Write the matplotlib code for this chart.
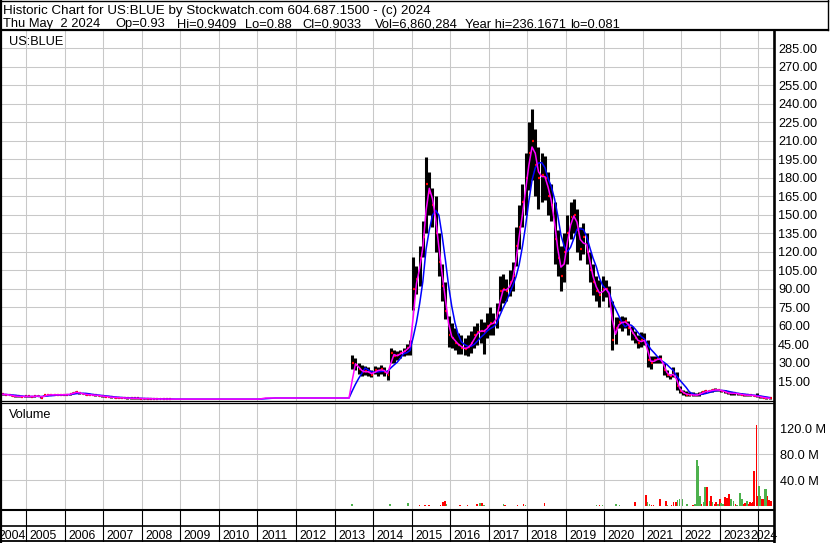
import numpy as np
import pandas as pd
import matplotlib
matplotlib.use("Agg")
import matplotlib.pyplot as plt
from matplotlib.transforms import offset_copy, blended_transform_factory
from matplotlib.ticker import FuncFormatter

plt.rcParams['font.family'] = ['Liberation Sans', 'DejaVu Sans']

# monthly bars, May 2004 .. Apr 2024 (None = no trading that month)
months = pd.date_range("2004-05-01", "2024-04-01", freq="MS")

close = [
    4.2, 4.0, 3.6, 3.0, 2.6, 2.5, 2.4, 2.5,                               # 2004
    2.5, 2.4, 2.6, 3.0, 1.5, 3.4, 3.7, 3.8, 3.7, 3.8, 3.8, 3.9,           # 2005
    4.0, 4.3, 5.5, 6.0, 5.0, 4.5, 4.0, 3.8, 3.6, 3.4, 3.1, 2.7,           # 2006
    2.4, 2.0, 1.8, 1.6, 1.5, 1.4, 1.2, 1.1, 1.0, 1.0, 0.9, 0.8,           # 2007
    0.7, 0.8, 0.6, 0.5, 0.5, 0.4, 0.4, 0.3, 0.3, 0.3, 0.3, 0.3,           # 2008
    0.3, 0.3, 0.3, 0.3, 0.3, 0.3, 0.3, 0.3, 0.3, 0.3, 0.3, 0.3,           # 2009
    0.3, 0.3, 0.3, 0.3, 0.3, 0.3, 0.3, 0.3, 0.3, 0.3, 0.3, 0.3,           # 2010
    0.3, 1.2, 1.2, 1.2, 1.2, 1.2, 1.2, 1.2, 1.2, 1.2, 1.2, 1.2,           # 2011
    1.2, 1.2, 1.2, 1.2, 1.2, 1.2, 1.2, 1.2, 1.2, 1.2, 1.2, 1.2,           # 2012
    1.2, 1.2, 1.2, 1.2, 1.2, 30, 28, 25, 22, 23, 22, 20,                  # 2013
    24, 23, 25, 22, 20, 38, 35, 36, 38, 39, 42, 44,                       # 2014
    90, 98, 115, 132, 175, 168, 158, 135, 112, 92, 72, 52,                # 2015
    50, 46, 44, 42, 41, 43, 46, 52, 55, 56, 55, 60,                       # 2016
    62, 62, 70, 88, 90, 88, 95, 100, 125, 140, 160, 180,                  # 2017
    200, 210, 190, 180, 182, 180, 165, 158, 130, 115, 100, 120,           # 2018
    135, 148, 150, 138, 122, 132, 120, 105, 95, 88, 85, 90,               # 2019
    90, 82, 48, 58, 63, 62, 64, 58, 54, 50, 46, 48,                       # 2020
    48, 32, 30, 32, 33, 33, 24, 20, 19, 22, 11, 7,                        # 2021
    5, 4, 4, 3.5, 3.5, 4.5, 6, 6.5, 7, 7.5, 8, 7.5,                       # 2022
    7, 6, 5, 5, 5, 4.5, 4, 3.5, 3.5, 3.5, 3, 2.5,                         # 2023
    2, 1.5, 1.1, 0.9,                                                     # 2024
]
high = [
    4.6, 4.3, 3.9, 3.3, 2.9, 2.8, 2.7, 2.8,
    2.8, 2.7, 2.9, 3.3, 3.0, 3.7, 4.0, 4.1, 4.0, 4.1, 4.1, 4.2,
    4.3, 4.8, 6.3, 6.8, 5.6, 4.9, 4.4, 4.1, 3.9, 3.7, 3.4, 3.0,
    2.7, 2.3, 2.1, 1.9, 1.8, 1.7, 1.5, 1.4, 1.3, 1.3, 1.2, 1.1,
    1.0, 1.3, 0.9, 0.8, 0.8, 0.7, 0.6, 0.5, 0.5, None, None, None,
    None, None, None, None, None, None, None, None, None, None, None, None,
    None, None, None, None, None, None, None, None, None, None, None, None,
    None, None, None, None, None, None, None, None, None, None, None, None,
    None, None, None, None, None, None, None, None, None, None, None, None,
    None, None, None, None, None, 36, 34, 30, 28, 27, 26, 24,
    27, 26, 28, 26, 24, 42, 40, 39, 40, 42, 45, 48,
    116, 108, 125, 145, 197, 185, 172, 165, 135, 110, 95, 68,
    62, 58, 54, 52, 50, 52, 56, 60, 62, 65, 63, 70,
    75, 70, 78, 100, 102, 98, 105, 112, 140, 158, 175, 200,
    225, 236, 220, 205, 200, 198, 185, 175, 160, 138, 125, 135,
    150, 160, 163, 155, 140, 143, 135, 120, 110, 100, 97, 100,
    97, 92, 80, 67, 67, 68, 67, 64, 60, 56, 52, 55,
    54, 48, 35, 35, 35, 36, 30, 24, 21, 26, 22, 11,
    8, 7, 6, 6, 5, 6, 7, 8, 8, 8.5, 9, 8.5,
    8, 7.5, 6.5, 6, 6, 5.5, 5, 4.5, 4.5, 4, 4, 5,
    3, 2, 1.5, 1.2,
]
low = [
    3.9, 3.6, 3.3, 2.7, 2.3, 2.2, 2.1, 2.2,
    2.2, 2.1, 2.3, 2.7, 1.2, 3.1, 3.4, 3.5, 3.4, 3.5, 3.5, 3.6,
    3.7, 4.0, 5.0, 5.4, 4.6, 4.2, 3.7, 3.5, 3.3, 3.1, 2.8, 2.4,
    2.1, 1.7, 1.5, 1.3, 1.2, 1.1, 0.9, 0.8, 0.7, 0.7, 0.6, 0.5,
    0.5, 0.5, 0.4, 0.3, 0.3, 0.2, 0.2, 0.1, 0.1, None, None, None,
    None, None, None, None, None, None, None, None, None, None, None, None,
    None, None, None, None, None, None, None, None, None, None, None, None,
    None, None, None, None, None, None, None, None, None, None, None, None,
    None, None, None, None, None, None, None, None, None, None, None, None,
    None, None, None, None, None, 25, 24, 21, 19, 20, 19, 18,
    21, 19, 21, 19, 16, 30, 30, 32, 34, 35, 36, 36,
    73, 86, 92, 116, 135, 150, 140, 120, 100, 80, 65, 43,
    42, 40, 37, 37, 36, 35, 38, 42, 44, 46, 37, 50,
    52, 52, 58, 72, 78, 80, 84, 88, 108, 122, 140, 150,
    170, 178, 165, 155, 160, 162, 150, 145, 110, 100, 88, 95,
    110, 130, 135, 120, 113, 118, 110, 95, 85, 80, 75, 80,
    83, 75, 40, 45, 58, 56, 58, 52, 48, 46, 42, 43,
    44, 26, 25, 30, 30, 30, 20, 18, 17, 18, 8, 5,
    4, 3, 3, 2.5, 2.5, 3, 4.5, 5, 6, 6, 6.5, 6.5,
    6, 5, 4.5, 4, 4, 4, 3.5, 3, 3, 3, 2.5, 2,
    1.5, 1, 0.8, 0.081,
]

# weekly volume (millions), year fraction, up week?
vol_t = [2007.10, 2013.45, 2013.50, 2014.44, 2014.47, 2014.52, 2014.91, 2014.95, 2015.00,
         2015.20, 2015.35, 2015.45, 2015.60, 2015.75, 2015.82, 2015.86, 2015.90, 2016.15,
         2016.25, 2016.45, 2016.70, 2016.78, 2016.82, 2016.88, 2017.10, 2017.38, 2017.42,
         2017.60, 2017.75, 2017.90, 2017.95, 2018.10, 2018.25, 2018.45, 2018.75, 2018.93,
         2019.10, 2019.25, 2019.80, 2019.88, 2019.95, 2020.05, 2020.15, 2020.30, 2020.40,
         2020.55, 2020.80, 2020.88, 2021.08, 2021.12, 2021.17, 2021.22, 2021.28, 2021.44,
         2021.60, 2021.64, 2021.75, 2021.80, 2021.86, 2021.90, 2021.95, 2022.03, 2022.15,
         2022.30, 2022.35, 2022.41, 2022.45, 2022.48, 2022.52, 2022.57, 2022.61, 2022.67,
         2022.73, 2022.77, 2022.81, 2022.86, 2022.90, 2022.95, 2023.00, 2023.03, 2023.08,
         2023.14, 2023.18, 2023.24, 2023.29, 2023.35, 2023.40, 2023.45, 2023.52, 2023.57,
         2023.61, 2023.65, 2023.70, 2023.74, 2023.78, 2023.82, 2023.86, 2023.89, 2023.95,
         2023.98, 2024.02, 2024.05, 2024.08, 2024.12, 2024.16, 2024.20, 2024.24, 2024.28,
         2024.33]
vol_m = [0.6, 3.0, 0.8, 4.0, 1.2, 0.8, 5.0, 1.0, 1.2,
         1.5, 2.0, 1.5, 1.0, 2.5, 6.0, 8.0, 3.0, 1.2,
         1.5, 1.5, 3.0, 4.5, 5.0, 2.0, 1.0, 3.0, 2.5,
         1.2, 1.5, 3.5, 1.5, 1.0, 1.0, 4.5, 1.2, 1.2,
         1.0, 0.8, 1.5, 2.0, 1.5, 1.0, 1.2, 3.0, 1.5,
         1.0, 6.5, 1.2, 17.0, 5.9, 4.0, 2.5, 1.5, 12.0,
         8.5, 2.0, 2.5, 6.0, 6.5, 10.0, 10.5, 11.0, 3.0,
         2.5, 3.5, 71.0, 62.0, 16.0, 4.0, 6.0, 29.0, 29.0,
         8.5, 16.0, 6.0, 3.0, 6.0, 4.0, 11.0, 5.5, 3.0,
         14.0, 13.0, 19.0, 12.0, 8.5, 3.0, 2.5, 21.0, 12.0,
         4.0, 5.5, 8.5, 4.0, 6.0, 5.0, 7.0, 54.6, 125.0,
         16.0, 32.0, 16.0, 11.0, 11.0, 27.0, 27.0, 16.0, 10.0,
         8.5]
vol_up = [1, 1, 0, 1, 0, 0, 1, 0, 0,
          0, 0, 0, 1, 0, 0, 0, 1, 0,
          0, 0, 0, 1, 0, 1, 1, 1, 0,
          0, 0, 0, 1, 0, 0, 0, 0, 0,
          0, 1, 1, 0, 1, 0, 1, 1, 1,
          1, 0, 0, 0, 1, 1, 0, 0, 0,
          0, 1, 0, 0, 0, 1, 1, 1, 1,
          0, 1, 1, 1, 1, 0, 1, 1, 0,
          1, 0, 1, 0, 0, 1, 0, 1, 1,
          0, 0, 0, 1, 1, 0, 1, 1, 1,
          0, 0, 1, 0, 0, 0, 0, 0, 0,
          0, 1, 1, 0, 0, 1, 1, 0, 0,
          0]

year_ticks = list(range(2005, 2025))
price_ticks = list(range(15, 286, 15))
vol_ticks = [40, 80, 120]

header1 = "Historic Chart for US:BLUE by Stockwatch.com 604.687.1500 - (c) 2024"
header2 = ["Thu May  2 2024", "Op=0.93", "Hi=0.9409", "Lo=0.88", "Cl=0.9033",
           "Vol=6,860,284", "Year hi=236.1671", "lo=0.081"]
header2_x = [3, 115, 177, 245, 302, 375, 465, 570]   # pixel starts of the fields

t = months.year + (months.month - 1) / 12 + 1 / 24
close = np.array(close, dtype=float)
high = np.array(high, dtype=float)
low = np.array(low, dtype=float)
traded = ~np.isnan(high)
ma_fast = pd.Series(close).rolling(2, min_periods=1).mean()
ma_slow = pd.Series(close).rolling(5, min_periods=1).mean()

W, H = 830, 543
fig = plt.figure(figsize=(W / 100, H / 100), dpi=100)


def px_axes(l, top, r, b, **kw):
    return fig.add_axes([l / W, 1 - b / H, (r - l) / W, (b - top) / H], **kw)


GRID = '#c8c8c8'
XLIM = (2004.343, 2024.405)
FS = 9.2
HFS = 9.65

# price panel
ax = px_axes(1, 31, 774, 400.5)
ax.set_xlim(XLIM)
ax.set_ylim(-0.81, 299.2)
ax.set_xticks(year_ticks)
ax.set_yticks(price_ticks)
ax.grid(True, color=GRID, lw=0.75)
ax.set_axisbelow(True)
ax.tick_params(length=0, labelbottom=False, labelleft=False, labelright=True,
               pad=3.0, labelsize=FS)
ax.yaxis.set_major_formatter(FuncFormatter(lambda v, p: f"{v:.2f}"))
for s in ax.spines.values():
    s.set_visible(False)
ax.spines['bottom'].set_visible(True)
ax.spines['bottom'].set_linewidth(0.9)

ax.vlines(t[traded], low[traded], high[traded], colors='black', lw=2.2)
ax.hlines(close[traded], t[traded], t[traded] + 0.05, colors='red', lw=1.6)
ax.plot(t, ma_slow, color='#0000ff', lw=1.1)
ax.plot(t, ma_fast, color='#ff00ff', lw=1.1)

# volume panel
axv = px_axes(1, 402.5, 774, 509.5, sharex=ax)
axv.set_ylim(-4.9, 159.7)
axv.set_yticks(vol_ticks)
axv.grid(True, color=GRID, lw=0.75)
axv.set_axisbelow(True)
axv.tick_params(length=0, labelbottom=False, labelleft=False, labelright=True,
                pad=4.0, labelsize=FS)
axv.yaxis.set_major_formatter(FuncFormatter(lambda v, p: f"{v:.1f} M"))
for s in axv.spines.values():
    s.set_visible(False)
axv.spines['top'].set_visible(True)
axv.spines['top'].set_linewidth(0.9)
axv.spines['bottom'].set_visible(True)
axv.spines['bottom'].set_linewidth(1.5)
axv.bar(vol_t, vol_m, width=0.04,
        color=['#4db14d' if u else '#ff0000' for u in vol_up], linewidth=0)

# year label rows
axr = px_axes(1, 509.5, 774, 541.5, sharex=ax)
axr.set_ylim(0, 1)
axr.axis('off')
axr.axhline(0.484, color='black', lw=1.2)
axr.axhline(0.02, color='black', lw=1.3)
for y in year_ticks:
    axr.axvline(y, color='black', lw=0.8)
blend = blended_transform_factory(axr.transData, axr.transAxes)
for y in year_ticks:
    dx = -8.4 if y == 2024 else 3.5
    axr.text(y, 0.07, str(y), transform=offset_copy(blend, fig=fig, x=dx, y=0, units='dots'),
             ha='left', va='baseline', fontsize=8.8)
axr.text(2005, 0.07, "2004", transform=offset_copy(blend, fig=fig, x=-0.5, y=0, units='dots'),
         ha='right', va='baseline', fontsize=8.8)

# fixed frame: header box, borders
fr = fig.add_axes([0, 0, 1, 1], zorder=10)
fr.set_xlim(0, W)
fr.set_ylim(H, 0)
fr.axis('off')
fr.patch.set_alpha(0)
fr.plot([0, 828], [0.5, 0.5], color='black', lw=1.0)
fr.plot([0, 828], [30.2, 30.2], color='black', lw=1.6)
fr.plot([827.5, 827.5], [0, 30], color='black', lw=1.0)
fr.plot([1, 1], [0, H], color='black', lw=1.6)
fr.plot([774, 774], [30, H], color='black', lw=1.9)
fr.text(3, 14, header1, fontsize=HFS, va='baseline')
for s, x in zip(header2, header2_x):
    fr.text(x, 27.5, s, fontsize=9.3, va='baseline')
fr.text(9, 45, "US:BLUE", fontsize=FS, va='baseline')
fr.text(9, 418, "Volume", fontsize=FS, va='baseline')

fig.savefig("out.png", dpi=100)
